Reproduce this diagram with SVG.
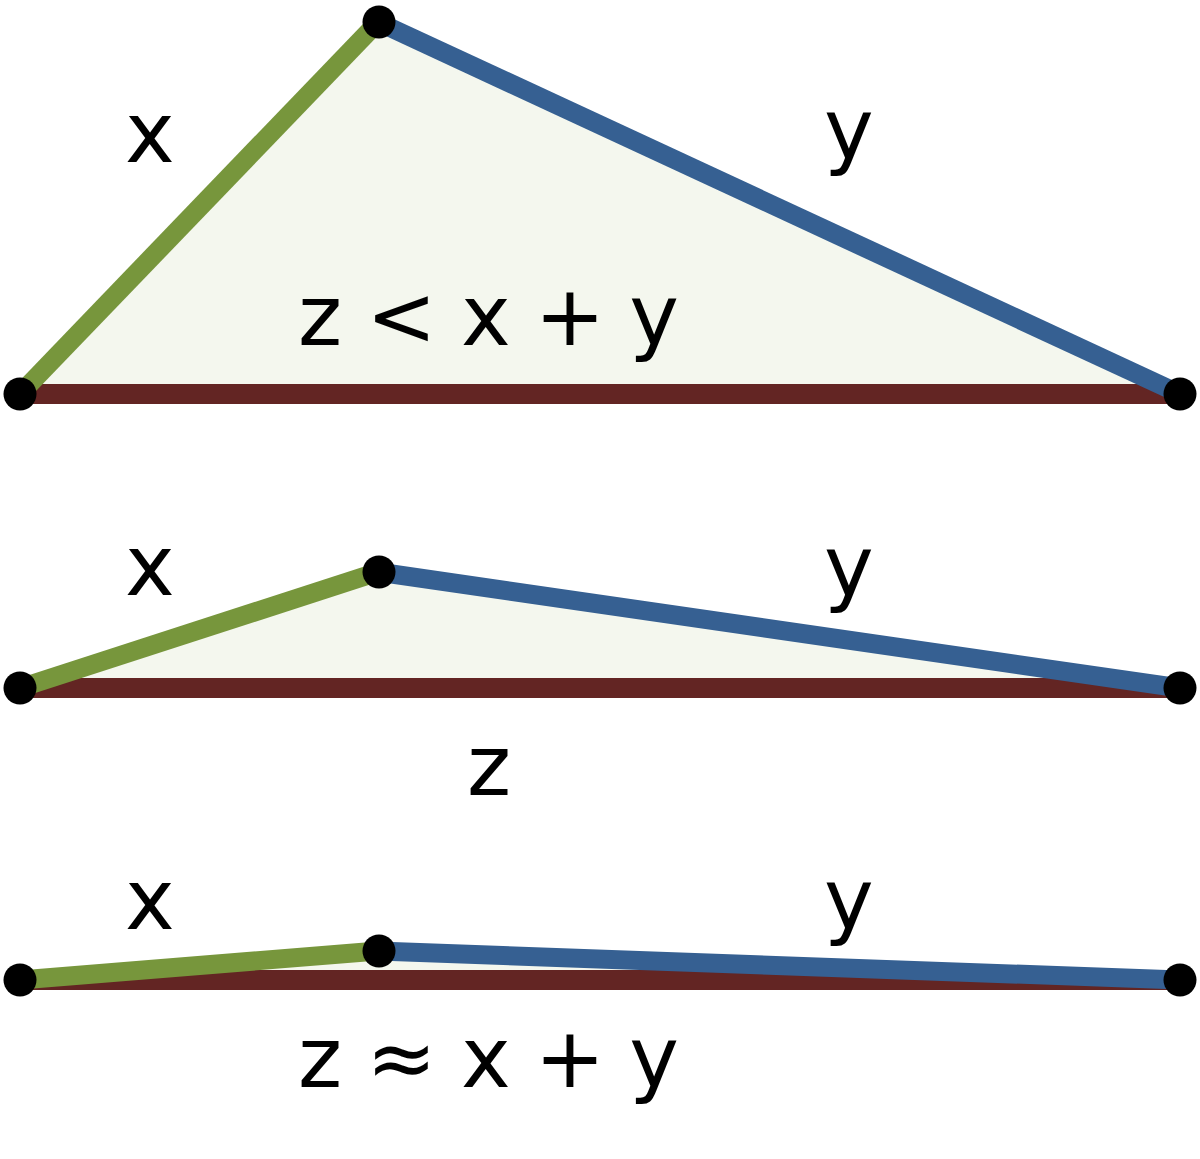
<svg xmlns="http://www.w3.org/2000/svg" width="1200" height="1159" viewBox="0 0 1200 1159">
<style>
.fill{fill:#f4f7ee;stroke:none}
.z{stroke:#632523;stroke-width:20;fill:none}
.x{stroke:#77963c;stroke-width:19;fill:none}
.y{stroke:#366092;stroke-width:19;fill:none}
.dot{fill:#000}
text{font-family:"DejaVu Sans","Liberation Sans",sans-serif;font-size:84px;fill:#000}
.eq{word-spacing:-2.5px}
</style>
<rect width="1200" height="1159" fill="#fff"/>
<g id="triangle1">
<polygon class="fill" points="20,394 378,22 1180,394"/>
<g id="edges1">
<line class="z" x1="20" y1="394" x2="1180" y2="394"/>
<line class="x" x1="20" y1="394" x2="378" y2="22"/>
<line class="y" x1="378" y1="22" x2="1180" y2="394"/>
</g>
<circle class="dot" cx="20" cy="394" r="16.5"/>
<circle class="dot" cx="379" cy="22" r="16.5"/>
<circle class="dot" cx="1180" cy="394" r="16.5"/>
<text x="125" y="162">x</text>
<text x="824" y="159">y</text>
<text class="eq" x="298" y="345">z &lt; x + y</text>
</g>
<g id="triangle2">
<polygon class="fill" points="20,688 378,572 1180,688"/>
<g id="edges2">
<line class="z" x1="20" y1="688" x2="1180" y2="688"/>
<line class="x" x1="20" y1="688" x2="378" y2="572"/>
<line class="y" x1="378" y1="572" x2="1180" y2="688"/>
</g>
<circle class="dot" cx="20" cy="688" r="16.5"/>
<circle class="dot" cx="379" cy="572" r="16.5"/>
<circle class="dot" cx="1180" cy="688" r="16.5"/>
<text x="125" y="595">x</text>
<text x="824" y="596">y</text>
<text x="467" y="795">z</text>
</g>
<g id="triangle3">
<polygon class="fill" points="20,980 378,951 1180,980"/>
<g id="edges3">
<line class="z" x1="20" y1="980" x2="1180" y2="980"/>
<line class="x" x1="20" y1="980" x2="378" y2="951"/>
<line class="y" x1="378" y1="951" x2="1180" y2="980"/>
</g>
<circle class="dot" cx="20" cy="980" r="16.5"/>
<circle class="dot" cx="379" cy="951" r="16.5"/>
<circle class="dot" cx="1180" cy="980" r="16.5"/>
<text x="125" y="929">x</text>
<text x="824" y="929">y</text>
<text class="eq" x="298" y="1087">z ≈ x + y</text>
</g>
</svg>
